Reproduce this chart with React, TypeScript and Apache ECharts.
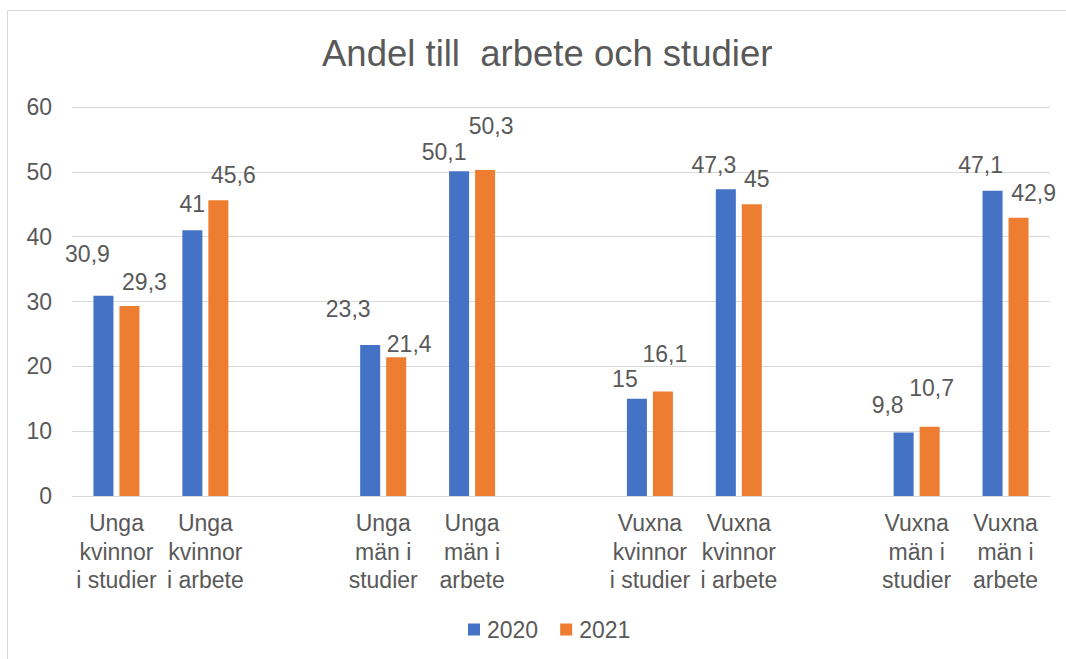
import React, { useEffect, useRef } from "react";
import * as echarts from "echarts";

const categories = [
  "Unga\nkvinnor\ni studier",
  "Unga\nkvinnor\ni arbete",
  "",
  "Unga\nmän i\nstudier",
  "Unga\nmän i\narbete",
  "",
  "Vuxna\nkvinnor\ni studier",
  "Vuxna\nkvinnor\ni arbete",
  "",
  "Vuxna\nmän i\nstudier",
  "Vuxna\nmän i\narbete",
];

const values2020: (number | null)[] = [30.9, 41, null, 23.3, 50.1, null, 15, 47.3, null, 9.8, 47.1];
const values2021: (number | null)[] = [29.3, 45.6, null, 21.4, 50.3, null, 16.1, 45, null, 10.7, 42.9];

const yTicks = { min: 0, max: 60, interval: 10 };

// label nudges (pixel offsets of data labels as placed in the original)
const offsets2020: [number, number][] = [
  [-16, -25], [0, -10], [0, 0], [-22, -19], [-15, -3], [0, 0], [-12, -3], [-12, -8], [0, 0], [-16, -11], [-12, -9],
];
const offsets2021: [number, number][] = [
  [15, -8], [15, -9], [0, 0], [13, 3], [6, -27], [0, 0], [2, -21], [5, -9], [0, 0], [2, -22], [15, -8],
];

const FONT = "'Liberation Sans', Arial, sans-serif";
const TEXT = "#595959";

function buildData(vals: (number | null)[], offs: [number, number][]) {
  return vals.map((v, i) =>
    v === null
      ? "-"
      : { value: v, label: { offset: offs[i] } }
  );
}

export default function App() {
  const ref = useRef<HTMLDivElement>(null);
  useEffect(() => {
    if (!ref.current) return;
    const chart = echarts.init(ref.current, undefined, { renderer: "svg" });
    const labelCommon = {
      show: true,
      position: "top" as const,
      distance: 5,
      color: TEXT,
      fontSize: 23,
      fontFamily: FONT,
      formatter: (p: any) => String(p.value).replace(".", ","),
    };
    chart.setOption({
      animation: false,
      backgroundColor: "#ffffff",
      graphic: [
        {
          type: "rect",
          shape: { x: 7.5, y: 10.5, width: 1100, height: 700 },
          style: { fill: "none", stroke: "#d9d9d9", lineWidth: 1 },
          silent: true,
          z: -10,
        },
      ],
      title: {
        text: "Andel till  arbete och studier",
        left: 317,
        top: 30,
        textStyle: { color: TEXT, fontSize: 36.5, fontWeight: "normal", fontFamily: FONT },
      },
      legend: {
        left: 463,
        top: 613,
        itemWidth: 12,
        itemHeight: 12,
        itemGap: 22,
        icon: "rect",
        textStyle: { color: TEXT, fontSize: 23, fontFamily: FONT, padding: [0, 0, 0, 2] },
        data: ["2020", "2021"],
      },
      grid: { left: 72, right: 16, top: 107, bottom: 163, containLabel: false },
      xAxis: {
        type: "category",
        data: categories,
        axisLine: { lineStyle: { color: "#d9d9d9", width: 1 } },
        axisTick: { show: false },
        axisLabel: {
          color: TEXT,
          fontSize: 23,
          fontFamily: FONT,
          lineHeight: 28.5,
          margin: 13,
          interval: 0,
          align: "center",
        },
      },
      yAxis: {
        type: "value",
        min: yTicks.min,
        max: yTicks.max,
        interval: yTicks.interval,
        axisLine: { show: false },
        axisTick: { show: false },
        splitLine: { lineStyle: { color: "#d9d9d9", width: 1 } },
        axisLabel: { color: TEXT, fontSize: 23, fontFamily: FONT, margin: 20 },
      },
      series: [
        {
          name: "2020",
          type: "bar",
          data: buildData(values2020, offsets2020),
          barWidth: 20,
          barGap: "30%",
          itemStyle: { color: "#4472C4" },
          label: labelCommon,
        },
        {
          name: "2021",
          type: "bar",
          data: buildData(values2021, offsets2021),
          barWidth: 20,
          itemStyle: { color: "#ED7D31" },
          label: labelCommon,
        },
      ],
    });
    return () => chart.dispose();
  }, []);
  return (
    <div
      ref={ref}
      style={{ position: "fixed", left: 0, top: 0, width: 1066, height: 659 }}
    />
  );
}
